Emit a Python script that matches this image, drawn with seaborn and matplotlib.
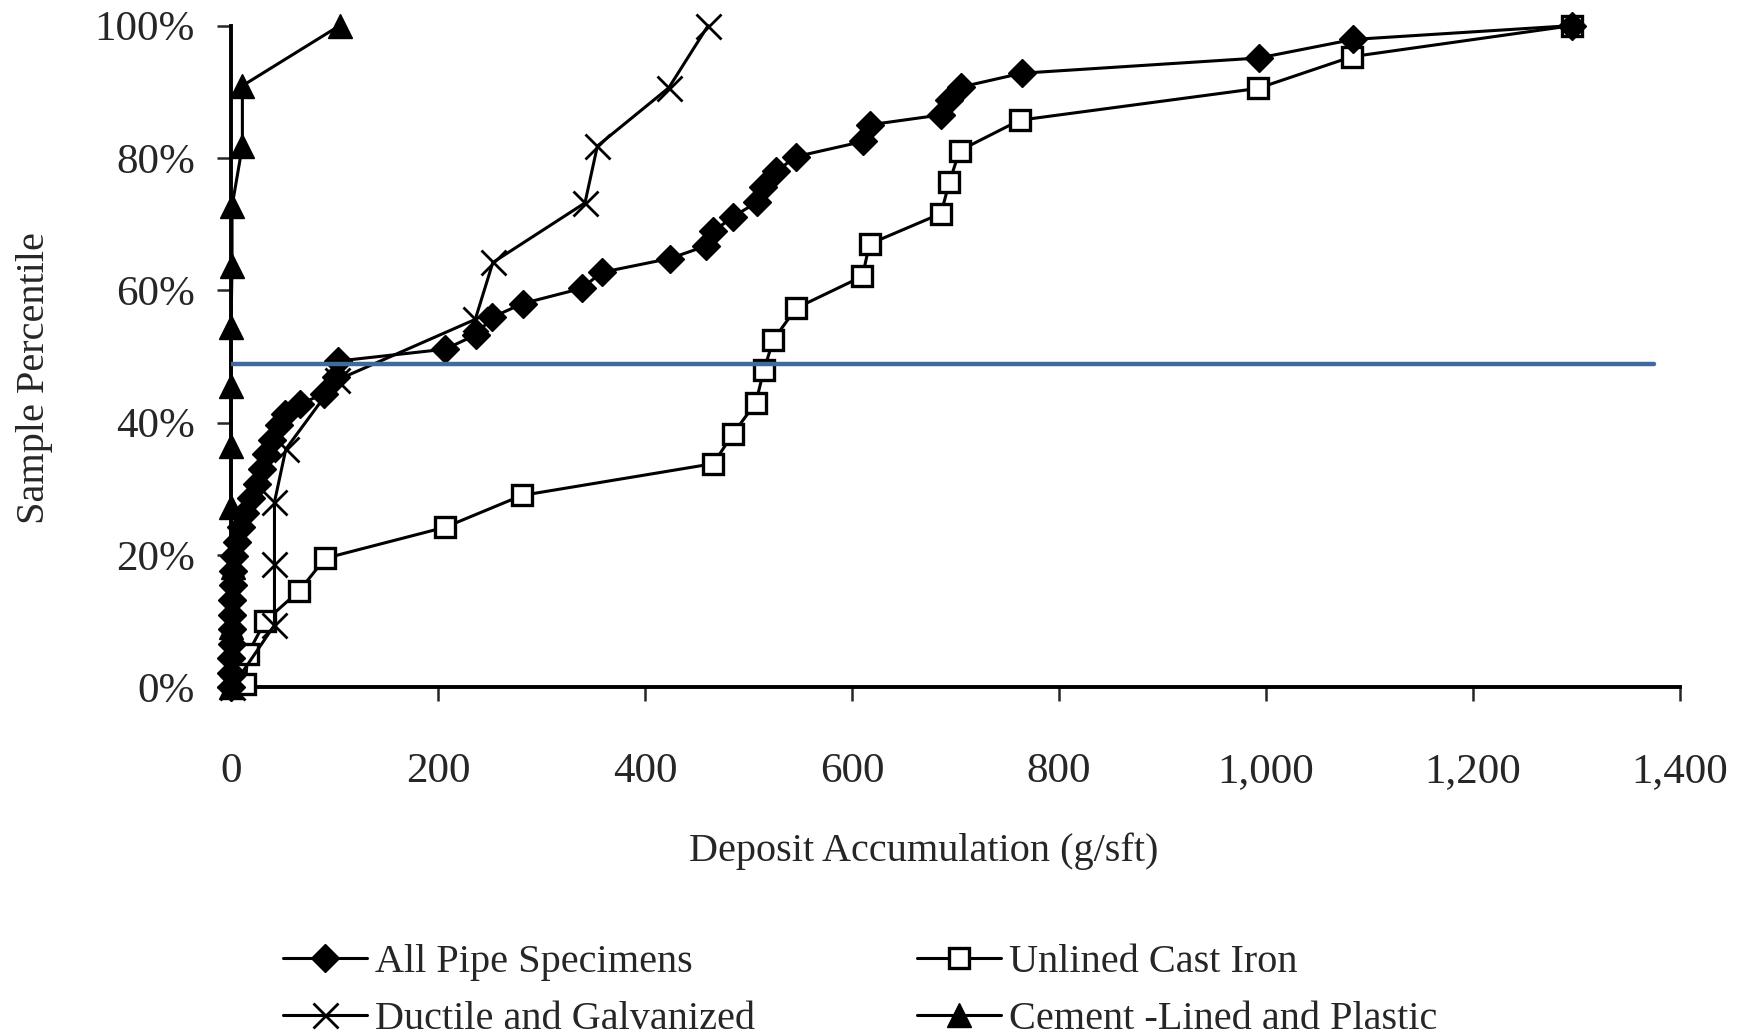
"""
Cumulative distribution of deposit accumulation by pipe material
"""

import matplotlib
matplotlib.use("Agg")
import matplotlib.pyplot as plt
import matplotlib.ticker as mticker
import seaborn as sns

# Data (x = g/sft, y = sample percentile in %)
all_pipe_x = [0, 0, 0, 0.5, 0.5, 1, 1, 1.5, 2, 3, 6, 10, 14, 19, 25, 30, 34, 40, 46,
              52, 67, 90, 101, 103, 207, 237, 252, 282, 339, 358, 424, 459, 466, 485,
              508, 514, 527, 546, 611, 617, 686, 694, 705, 764, 993, 1084, 1296]
all_pipe_y = [0, 2.2, 4.4, 6.6, 8.8, 11.0, 13.2, 15.4, 17.6, 19.8, 22.0, 24.2, 26.4,
              28.6, 30.8, 33.0, 35.2, 37.4, 39.6, 41.3, 42.8, 44.4, 46.9, 49.3, 51.1,
              53.3, 55.9, 58.0, 60.3, 62.7, 64.8, 66.7, 68.9, 71.1, 73.3, 75.6, 78.0,
              80.2, 82.5, 85.0, 86.5, 88.8, 90.7, 92.8, 95.1, 97.9, 100]

cast_iron_x = [14, 16, 33, 66, 91, 207, 281, 466, 485, 507, 515, 524, 546, 610, 617,
               686, 694, 704, 762, 992, 1083, 1296]
cast_iron_y = [0.5, 5.0, 10.0, 14.6, 19.5, 24.2, 29.0, 33.8, 38.3, 43.0, 48.0, 52.5,
               57.3, 62.1, 67.0, 71.6, 76.3, 81.1, 85.7, 90.5, 95.3, 100]

ductile_x = [1, 42, 42, 42, 53, 102, 236, 253, 342, 354, 423, 461]
ductile_y = [0, 9.4, 18.7, 28.0, 36.0, 46.4, 55.6, 64.2, 73.2, 81.8, 90.6, 100]

cement_x = [0, 0, 2, 0, 0, 0, 0, 1, 1, 11, 11, 105]
cement_y = [0, 9.1, 18.2, 27.3, 36.4, 45.5, 54.5, 63.6, 72.7, 81.8, 90.9, 100]

median_y = 48.8
median_x_end = 1375

x_ticks = [0, 200, 400, 600, 800, 1000, 1200, 1400]
y_ticks = [0, 20, 40, 60, 80, 100]

sns.set_theme(style="ticks")
plt.rcParams['font.family'] = ['Liberation Serif', 'DejaVu Serif']
plt.rcParams['font.size'] = 29

fig = plt.figure(figsize=(17.46, 10.35), dpi=100)
ax = fig.add_axes([0.1323, 0.3359, 0.8299, 0.6394])

line_kw = dict(ax=ax, color='black', linewidth=2.2, sort=False, estimator=None,
               clip_on=False)

sns.lineplot(x=all_pipe_x, y=all_pipe_y, marker='D', markersize=14,
             markerfacecolor='black', markeredgecolor='black', markeredgewidth=1,
             label='All Pipe Specimens', zorder=4, **line_kw)
sns.lineplot(x=cast_iron_x, y=cast_iron_y, marker='s', markersize=14,
             markerfacecolor='white', markeredgecolor='black', markeredgewidth=2.4,
             label='Unlined Cast Iron', zorder=3, **line_kw)
sns.lineplot(x=ductile_x, y=ductile_y, marker='x', markersize=18,
             markeredgecolor='black', markeredgewidth=2.0,
             label='Ductile and Galvanized', zorder=3, **line_kw)
sns.lineplot(x=cement_x, y=cement_y, marker='^', markersize=17,
             markerfacecolor='black', markeredgecolor='black', markeredgewidth=1,
             label='Cement -Lined and Plastic', zorder=5, **line_kw)

# horizontal median reference line
ax.plot([0, median_x_end], [median_y, median_y], color='#3E6A9E', linewidth=3.2,
        zorder=6)

ax.set_xlim(0, 1400)
ax.set_ylim(0, 100)
ax.set_xticks(x_ticks)
ax.set_yticks(y_ticks)
ax.xaxis.set_major_formatter(mticker.FuncFormatter(lambda v, p: f'{int(v):,}'))
ax.yaxis.set_major_formatter(mticker.FuncFormatter(lambda v, p: f'{int(v)}%'))
ax.tick_params(axis='x', direction='out', length=10, width=1.8, pad=37, labelsize=31)
ax.tick_params(axis='y', direction='out', length=10, width=1.8, pad=16, labelsize=31)

sns.despine(ax=ax)
for side in ['left', 'bottom']:
    ax.spines[side].set_linewidth(2.8)
    ax.spines[side].set_color('black')

ax.set_xlabel('Deposit Accumulation (g/sft)', fontsize=29)
ax.set_ylabel('Sample Percentile', fontsize=29)
ax.xaxis.set_label_coords(0.478, -0.219)
ax.yaxis.set_label_coords(-0.123, 0.467)

handles, labels = ax.get_legend_handles_labels()
order = [0, 2, 1, 3]
ax.legend([handles[i] for i in order], [labels[i] for i in order], ncol=2,
          loc='upper left', bbox_to_anchor=(0.162, 0.088), bbox_transform=fig.transFigure,
          frameon=False, fontsize=29, handlelength=2.1, handletextpad=0.2,
          columnspacing=4.0, labelspacing=0.5, borderpad=0, borderaxespad=0)

fig.savefig('out.png', dpi=100)
